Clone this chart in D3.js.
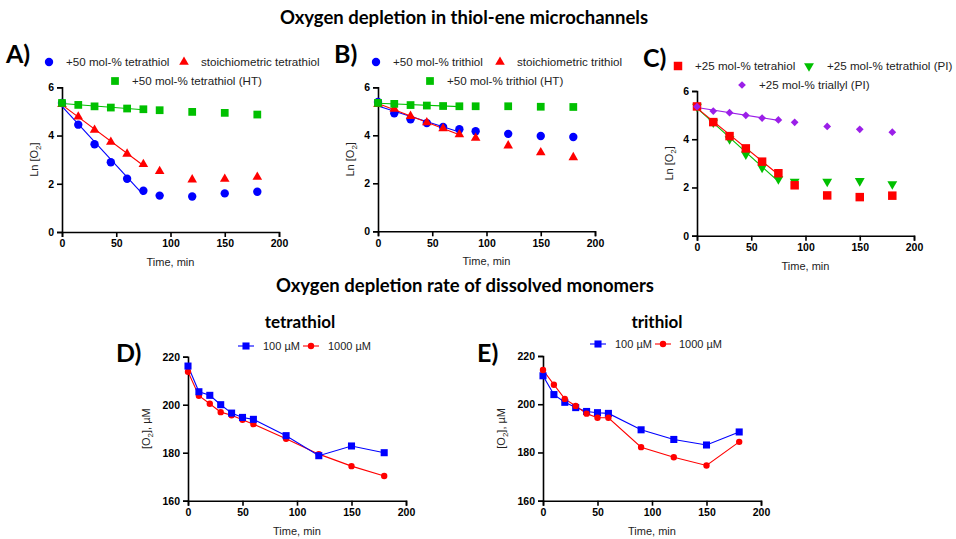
<!DOCTYPE html>
<html><head><meta charset="utf-8">
<script src="https://cdn.jsdelivr.net/npm/d3@7"></script>
<style>body{margin:0;background:#fff}svg{display:block}</style></head>
<body><svg id="c" width="956" height="539"></svg>
<script>
// ---------- DATA ----------
const timeLn = [0, 15, 30, 45, 60, 75, 90, 120, 150, 180];
const aTetra50   = [5.35, 4.45, 3.64, 2.89, 2.21, 1.71, 1.51, 1.47, 1.60, 1.67];
const aStoich    = [5.30, 4.78, 4.23, 3.73, 3.24, 2.81, 2.52, 2.17, 2.20, 2.28];
const aTetraHT   = [5.35, 5.27, 5.21, 5.16, 5.12, 5.09, 5.05, 4.98, 4.94, 4.87];
const bTri50     = [5.39, 4.92, 4.67, 4.51, 4.35, 4.25, 4.17, 4.06, 3.97, 3.93];
const bStoich    = [5.30, 5.10, 4.80, 4.53, 4.28, 4.03, 3.89, 3.57, 3.28, 3.08];
const bTriHT     = [5.35, 5.31, 5.26, 5.24, 5.22, 5.21, 5.21, 5.21, 5.19, 5.18];
const cTetra25   = [5.36, 4.71, 4.13, 3.62, 3.07, 2.59, 2.09, 1.67, 1.60, 1.66];
const cTetraPI   = [5.35, 4.70, 4.01, 3.37, 2.83, 2.35, 2.24, 2.24, 2.27, 2.14];
const cTriallyl  = [5.35, 5.17, 5.10, 4.99, 4.88, 4.80, 4.70, 4.53, 4.41, 4.29];
const fitMaxTime = 75;

const timeConc = [0, 10, 20, 30, 40, 50, 60, 90, 120, 150, 180];
const dTetra100  = [216.1, 205.4, 203.9, 200.0, 196.5, 194.7, 193.9, 187.1, 178.75, 182.8, 180.0];
const dTetra1000 = [213.75, 203.75, 200.4, 196.9, 195.6, 193.75, 191.9, 185.8, 179.4, 174.4, 170.3];
const eTri100    = [211.8, 204.0, 200.8, 198.6, 197.0, 196.5, 196.2, 189.4, 185.4, 183.1, 188.5];
const eTri1000   = [214.2, 208.1, 202.2, 199.3, 196.1, 194.4, 194.4, 182.2, 178.0, 174.6, 184.4];

const xTicks = [0, 50, 100, 150, 200];
const lnTicks = [0, 2, 4, 6];
const concTicks = [160, 180, 200, 220];

const title1 = "Oxygen depletion in thiol-ene microchannels";
const title2 = "Oxygen depletion rate of dissolved monomers";
const xTitle = "Time, min";

// ---------- DRAW ----------
const svg = d3.select("#c");
const BLUE = "#0000ff", RED = "#ff0000", GREEN = "#00c000", PURPLE = "#9b1fe8";
const numFont = "'Liberation Sans', Arial, sans-serif";
const headFont = "Lato, 'Open Sans', sans-serif";

svg.append("text").attr("x", 464).attr("y", 24).attr("text-anchor", "middle")
  .attr("font-family", headFont).attr("font-weight", "bold").attr("font-size", 18.5).text(title1);
svg.append("text").attr("x", 465).attr("y", 292).attr("text-anchor", "middle")
  .attr("font-family", headFont).attr("font-weight", "bold").attr("font-size", 18.5).text(title2);

function sym(type, size, color, rot) {
  return { type, size, color, rot: rot || 0 };
}
function drawSym(g, s, x, y) {
  g.append("path").attr("d", d3.symbol().type(s.type).size(s.size)())
    .attr("transform", `translate(${x},${y}) rotate(${s.rot})`).attr("fill", s.color);
}

function linreg(xs, ys) {
  const n = xs.length, mx = d3.mean(xs), my = d3.mean(ys);
  let sxy = 0, sxx = 0;
  for (let i = 0; i < n; i++) { sxy += (xs[i]-mx)*(ys[i]-my); sxx += (xs[i]-mx)**2; }
  const b = sxy / sxx; return { a: my - b*mx, b };
}

function panel(cfg) {
  const g = svg.append("g");
  const x = d3.scaleLinear().domain([0, 200]).range([cfg.x0, cfg.x1]);
  const y = d3.scaleLinear().domain(cfg.yDomain).range([cfg.yb, cfg.yt]);

  const xa = g.append("g").attr("transform", `translate(0,${cfg.yb})`)
    .call(d3.axisBottom(x).tickValues(xTicks).tickSize(5).tickPadding(3).tickFormat(d3.format("d")));
  const ya = g.append("g").attr("transform", `translate(${cfg.x0},0)`)
    .call(d3.axisLeft(y).tickValues(cfg.yTicks).tickSize(5).tickPadding(3).tickFormat(d3.format("d")));
  [xa, ya].forEach(a => {
    a.selectAll("path,line").attr("stroke", "#000").attr("stroke-width", 1.6);
    a.selectAll("text").attr("font-family", numFont).attr("font-weight", "bold")
      .attr("font-size", 10.5).attr("fill", "#000");
  });

  g.append("text").attr("x", (cfg.x0 + cfg.x1) / 2).attr("y", cfg.yb + 34).attr("text-anchor", "middle")
    .attr("font-family", numFont).attr("font-size", 11).attr("fill", "#222").text(xTitle);

  const yl = g.append("text").attr("transform", `translate(${cfg.ylx},${(cfg.yb + cfg.yt) / 2}) rotate(-90)`)
    .attr("text-anchor", "middle").attr("font-family", numFont).attr("font-size", 11).attr("fill", "#222");
  cfg.yLabel(yl);

  svg.append("text").attr("x", cfg.lx).attr("y", cfg.ly).attr("font-family", headFont)
    .attr("font-weight", "bold").attr("font-size", 25).text(cfg.letter);

  if (cfg.subtitle) {
    svg.append("text").attr("x", cfg.stx).attr("y", cfg.sty).attr("text-anchor", "middle")
      .attr("font-family", headFont).attr("font-weight", "bold").attr("font-size", 17).text(cfg.subtitle);
  }

  // series
  cfg.series.forEach(s => {
    if (cfg.fit) {
      const xs = cfg.t.filter(t => t <= fitMaxTime);
      const ys = s.v.slice(0, xs.length);
      const r = linreg(xs, ys);
      g.append("line").attr("x1", x(0)).attr("y1", y(r.a)).attr("x2", x(fitMaxTime)).attr("y2", y(r.a + r.b*fitMaxTime))
        .attr("stroke", s.sym.color).attr("stroke-width", 1.1);
    }
    if (cfg.connect) {
      g.append("path").datum(s.v.map((v, i) => [cfg.t[i], v]))
        .attr("d", d3.line().x(d => x(d[0])).y(d => y(d[1])))
        .attr("fill", "none").attr("stroke", s.sym.color).attr("stroke-width", 1.1);
    }
  });
  cfg.series.forEach(s => {
    s.v.forEach((v, i) => drawSym(g, s.sym, x(cfg.t[i]), y(v)));
  });

  // legend
  cfg.legend.forEach(L => {
    const s = cfg.series[L.i];
    if (cfg.connect) {
      svg.append("line").attr("x1", L.x - 8).attr("x2", L.x + 8).attr("y1", L.y).attr("y2", L.y)
        .attr("stroke", s.sym.color).attr("stroke-width", 1.1);
    }
    drawSym(svg, s.sym, L.x, L.y);
    svg.append("text").attr("x", L.tx).attr("y", L.y + 4).attr("font-family", numFont)
      .attr("font-size", cfg.legendSize).attr("fill", "#222").text(s.name);
  });
}

function lnLabel(t) {
  t.append("tspan").text("Ln [O");
  t.append("tspan").attr("font-size", 8).attr("dy", 3).text("2");
  t.append("tspan").attr("dy", -3).text("]");
}
function concLabel(t) {
  t.append("tspan").text("[O");
  t.append("tspan").attr("font-size", 8).attr("dy", 3).text("2");
  t.append("tspan").attr("dy", -3).text("], \u00b5M");
}

panel({
  letter: "A)", lx: 6, ly: 63, x0: 62, x1: 279, yb: 232, yt: 87.3, yDomain: [0, 6], yTicks: lnTicks,
  ylx: 38, yLabel: lnLabel, t: timeLn, fit: true, legendSize: 11.6,
  series: [
    { name: "+50 mol-% tetrathiol", v: aTetra50, sym: sym(d3.symbolCircle, 55, BLUE) },
    { name: "stoichiometric tetrathiol", v: aStoich, sym: sym(d3.symbolTriangle, 40, RED) },
    { name: "+50 mol-% tetrathiol (HT)", v: aTetraHT, sym: sym(d3.symbolSquare, 60, GREEN) }
  ],
  legend: [{ i: 0, x: 49, y: 62, tx: 66 }, { i: 1, x: 184, y: 62, tx: 201 }, { i: 2, x: 115, y: 81, tx: 132 }]
});
panel({
  letter: "B)", lx: 334, ly: 63, x0: 378, x1: 595, yb: 231.3, yt: 87.3, yDomain: [0, 6], yTicks: lnTicks,
  ylx: 354, yLabel: lnLabel, t: timeLn, fit: true, legendSize: 11.6,
  series: [
    { name: "+50 mol-% trithiol", v: bTri50, sym: sym(d3.symbolCircle, 55, BLUE) },
    { name: "stoichiometric trithiol", v: bStoich, sym: sym(d3.symbolTriangle, 40, RED) },
    { name: "+50 mol-% trithiol (HT)", v: bTriHT, sym: sym(d3.symbolSquare, 60, GREEN) }
  ],
  legend: [{ i: 0, x: 376, y: 62, tx: 393 }, { i: 1, x: 500, y: 62, tx: 517 }, { i: 2, x: 430, y: 81, tx: 447 }]
});
panel({
  letter: "C)", lx: 643, ly: 67, x0: 697, x1: 914, yb: 235.7, yt: 91, yDomain: [0, 6], yTicks: lnTicks,
  ylx: 673, yLabel: lnLabel, t: timeLn, fit: true, legendSize: 11.6,
  series: [
    { name: "+25 mol-% tetrathiol (PI)", v: cTetraPI, sym: sym(d3.symbolTriangle, 42, GREEN, 180) },
    { name: "+25 mol-% tetrahiol", v: cTetra25, sym: sym(d3.symbolSquare, 72, RED) },
    { name: "+25 mol-% triallyl (PI)", v: cTriallyl, sym: sym(d3.symbolSquare, 30, PURPLE, 45) }
  ],
  legend: [{ i: 1, x: 678, y: 66, tx: 695 }, { i: 0, x: 809, y: 66, tx: 827 }, { i: 2, x: 742, y: 85, tx: 759 }]
});
panel({
  letter: "D)", lx: 116, ly: 362, x0: 188, x1: 406, yb: 500.7, yt: 356.7, yDomain: [160, 220], yTicks: concTicks,
  ylx: 150, yLabel: concLabel, t: timeConc, connect: true, legendSize: 11,
  subtitle: "tetrathiol", stx: 300, sty: 328,
  series: [
    { name: "1000 \u00b5M", v: dTetra1000, sym: sym(d3.symbolCircle, 32, RED) },
    { name: "100 \u00b5M", v: dTetra100, sym: sym(d3.symbolSquare, 50, BLUE) }
  ],
  legend: [{ i: 1, x: 246, y: 346, tx: 263 }, { i: 0, x: 311, y: 346, tx: 328 }]
});
panel({
  letter: "E)", lx: 477, ly: 362, x0: 543, x1: 761, yb: 500.7, yt: 356, yDomain: [160, 220], yTicks: concTicks,
  ylx: 505, yLabel: concLabel, t: timeConc, connect: true, legendSize: 11,
  subtitle: "trithiol", stx: 657, sty: 328,
  series: [
    { name: "100 \u00b5M", v: eTri100, sym: sym(d3.symbolSquare, 50, BLUE) },
    { name: "1000 \u00b5M", v: eTri1000, sym: sym(d3.symbolCircle, 32, RED) }
  ],
  legend: [{ i: 0, x: 598, y: 344, tx: 615 }, { i: 1, x: 663, y: 344, tx: 679 }]
});
</script></body></html>
